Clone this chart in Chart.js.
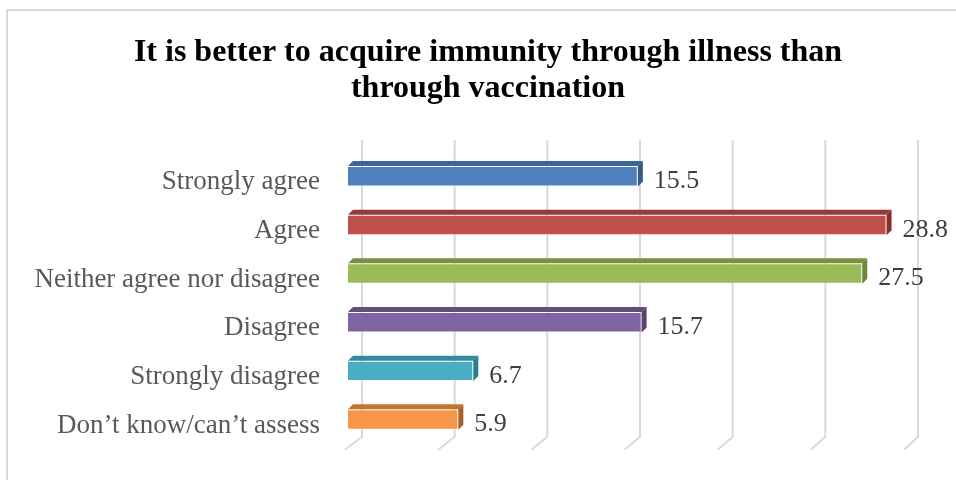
<!DOCTYPE html>
<html>
<head>
<meta charset="utf-8">
<script src="https://cdn.jsdelivr.net/npm/chart.js@4"></script>
<style>
  body { margin: 0; background: #fff; }
  #wrap { width: 956px; height: 480px; position: relative; }
</style>
</head>
<body>
<div id="wrap"><canvas id="chart1" width="956" height="480"></canvas></div>
<script>
// data
var categories = ['Strongly agree', 'Agree', 'Neither agree nor disagree', 'Disagree', 'Strongly disagree', 'Don\u2019t know/can\u2019t assess'];
var values = [15.5, 28.8, 27.5, 15.7, 6.7, 5.9];
var frontColors = ['#4F81BD', '#C0504D', '#9BBB59', '#8064A2', '#4BACC6', '#F79646'];
var topColors = ['#3D6596', '#953B39', '#77913F', '#614C7C', '#3689A0', '#C0742F'];
var sideColors = ['#36598A', '#86302E', '#6B8737', '#57446F', '#2F7C91', '#A8612A'];
var titleLines = ['It is better to acquire immunity through illness than', 'through vaccination'];

var serif = "'Times New Roman', 'Liberation Serif', serif";
var depth = 5;

// frame round the chart + title (centred on the frame, not the plot)
var framePlugin = {
    id: 'frame',
    beforeDraw: function (chart) {
        var ctx = chart.ctx;
        ctx.save();
        ctx.strokeStyle = '#d9d9d9';
        ctx.lineWidth = 2;
        ctx.strokeRect(7, 10, 1000, 1000);

        ctx.fillStyle = '#000';
        ctx.font = 'bold 32px ' + serif;
        ctx.textAlign = 'center';
        ctx.textBaseline = 'alphabetic';
        ctx.fillText(titleLines[0], 488, 61);
        ctx.fillText(titleLines[1], 488, 97);
        ctx.restore();
    }
};

// 3D-looking gridlines with a floor bend
var gridPlugin = {
    id: 'grid3d',
    beforeDatasetsDraw: function (chart) {
        var ctx = chart.ctx;
        var xs = chart.scales.x;
        var area = chart.chartArea;
        ctx.save();
        ctx.strokeStyle = '#d9d9d9';
        ctx.lineWidth = 2;
        for (var v = 0; v <= 30; v += 5) {
            var px = xs.getPixelForValue(v);
            var back = px + 14 - v / 6;
            var front = px - 3 - v / 15;
            ctx.beginPath();
            ctx.moveTo(back, area.top - 12);
            ctx.lineTo(back, area.bottom - 7);
            ctx.lineTo(front, area.bottom + 6);
            ctx.stroke();
        }
        ctx.restore();
    }
};

// top and side faces of bars + value labels
var barsPlugin = {
    id: 'bars3d',
    afterDatasetsDraw: function (chart) {
        var ctx = chart.ctx;
        var meta = chart.getDatasetMeta(0);
        ctx.save();
        meta.data.forEach(function (bar, i) {
            var top = bar.y - bar.height / 2;
            var bottom = bar.y + bar.height / 2;
            var left = bar.base;
            var right = bar.x;

            ctx.fillStyle = topColors[i];
            ctx.beginPath();
            ctx.moveTo(left, top);
            ctx.lineTo(left + depth, top - depth);
            ctx.lineTo(right + depth, top - depth);
            ctx.lineTo(right, top);
            ctx.closePath();
            ctx.fill();

            ctx.fillStyle = sideColors[i];
            ctx.beginPath();
            ctx.moveTo(right, top);
            ctx.lineTo(right + depth, top - depth);
            ctx.lineTo(right + depth, bottom - depth);
            ctx.lineTo(right, bottom);
            ctx.closePath();
            ctx.fill();

            ctx.fillStyle = '#404040';
            ctx.font = '26px ' + serif;
            ctx.textAlign = 'left';
            ctx.textBaseline = 'middle';
            ctx.fillText(values[i].toFixed(1), right + 16, bar.y + 5);
        });
        ctx.restore();
    }
};

var chart1 = document.getElementById('chart1').getContext('2d');
var myChart = new Chart(chart1, {
    type: 'bar',
    data: {
        labels: categories,
        datasets: [{
            data: values,
            backgroundColor: frontColors,
            borderColor: 'rgba(255,255,255,0.35)',
            borderWidth: 1,
            barPercentage: 0.42,
            categoryPercentage: 1
        }]
    },
    options: {
        indexAxis: 'y',
        responsive: false,
        animation: false,
        layout: {
            padding: { left: 0, right: 47, top: 152, bottom: 33 }
        },
        scales: {
            x: {
                min: 0,
                max: 30,
                display: false
            },
            y: {
                grid: { display: false },
                border: { display: false },
                ticks: {
                    color: '#595959',
                    font: { family: serif, size: 27 },
                    padding: 20,
                    labelOffset: 6
                },
                afterFit: function (scale) {
                    scale.width = 348;
                }
            }
        },
        plugins: {
            legend: { display: false },
            tooltip: { enabled: false },
            title: { display: false }
        }
    },
    plugins: [framePlugin, gridPlugin, barsPlugin]
});
</script>
</body>
</html>
